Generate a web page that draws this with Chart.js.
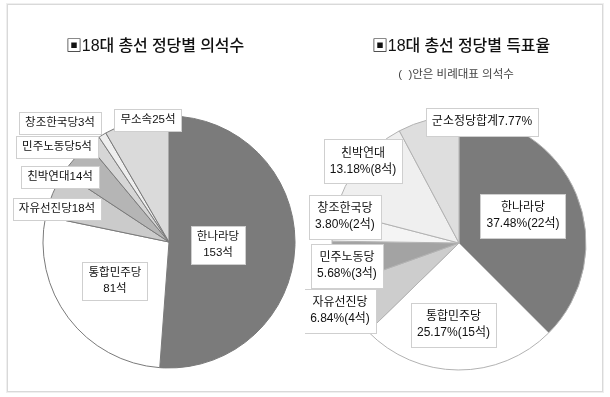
<!DOCTYPE html>
<html>
<head>
<meta charset="utf-8">
<script src="https://cdn.jsdelivr.net/npm/chart.js@4.4.1/dist/chart.umd.min.js"></script>
<style>
  html, body { margin: 0; padding: 0; background: #fff; }
  body { width: 610px; height: 397px; position: relative; overflow: hidden; font-family: "Liberation Sans", "Noto Sans CJK KR", sans-serif; }
  #frame { position: absolute; left: 7px; top: 4px; width: 594px; height: 386px; border: 1px solid #d9d9d9; box-shadow: 0 0 0 1px #efefef; }
  .wrap { position: absolute; top: 0; width: 305px; height: 397px; }
  .title { position: absolute; font-size: 16px; color: #111; white-space: nowrap; transform: translate(-50%, -50%); letter-spacing: -0.1px; font-weight: 500; }
  .sub { position: absolute; font-size: 11.5px; color: #444; white-space: nowrap; transform: translate(-50%, -50%); }
</style>
</head>
<body>
<div id="frame"></div>
<div class="wrap" style="left:0"><canvas id="c1" width="305" height="397"></canvas></div>
<div class="wrap" style="left:305px"><canvas id="c2" width="305" height="397"></canvas></div>
<div class="title" style="left:155px;top:44px">▣18대 총선 정당별 의석수</div>
<div class="title" style="left:461px;top:44px">▣18대 총선 정당별 득표율</div>
<div class="sub" style="left:456px;top:73px">(&nbsp;&nbsp;)안은 비례대표 의석수</div>
<script>
// ---- data ----
const seatParties = ['한나라당','통합민주당','자유선진당','친박연대','민주노동당','창조한국당','무소속'];
const seatCounts  = [153, 81, 18, 14, 5, 3, 25];

const voteParties = ['한나라당','통합민주당','자유선진당','민주노동당','창조한국당','친박연대','군소정당합계'];
const voteShares  = [37.48, 25.17, 6.84, 5.68, 3.80, 13.18, 7.77];
const propSeats   = [22, 15, 4, 3, 2, 8, null];

// ---- labels built from data ----
const seatLabels = seatParties.map((p, i) => (i < 2 ? [p, seatCounts[i] + '석'] : [p + seatCounts[i] + '석']));
const voteLabels = voteParties.map((p, i) => propSeats[i] == null
  ? [p + voteShares[i].toFixed(2) + '%']
  : [p, voteShares[i].toFixed(2) + '%(' + propSeats[i] + '석)']);

// ---- styles (label anchor offsets in units of the pie radius) ----
const seatColors = ['#7b7b7b','#ffffff','#cbcbcb','#b5b5b5','#d6d6d6','#eeeeee','#dadada'];
const voteColors = ['#7b7b7b','#ffffff','#cdcdcd','#a3a3a3','#f4f4f4','#efefef','#dedede'];
const seatAnchors = [[0.389,0.024],[-0.429,0.31],[-0.889,-0.262],[-0.865,-0.516],[-0.889,-0.754],[-0.865,-0.944],[-0.167,-0.968]];
const voteAnchors = [[0.504,-0.213],[-0.043,0.642],[-0.937,0.535],[-0.882,0.181],[-0.898,-0.205],[-0.756,-0.642],[0.181,-0.953]];
const labelFamily = '"Liberation Sans", "Noto Sans CJK KR", sans-serif';

function boxLabelPlugin(labels, anchors, fontSize, padX, padY, lineH) {
  return {
    id: 'boxLabels',
    afterDatasetsDraw(chart) {
      const ctx = chart.ctx;
      const arcs = chart.getDatasetMeta(0).data;
      ctx.save();
      ctx.font = fontSize + 'px ' + labelFamily;
      ctx.textAlign = 'center';
      ctx.textBaseline = 'middle';
      arcs.forEach((arc, i) => {
        const R = arc.outerRadius;
        const cx = arc.x + anchors[i][0] * R;
        const cy = arc.y + anchors[i][1] * R;
        const lines = labels[i];
        const w = Math.max(...lines.map(l => ctx.measureText(l).width)) + padX * 2;
        const h = lines.length * lineH + padY * 2;
        const bx = Math.round(cx - w / 2) + 0.5, by = Math.round(cy - h / 2) + 0.5;
        ctx.fillStyle = '#ffffff';
        ctx.fillRect(bx, by, Math.round(w), Math.round(h));
        ctx.strokeStyle = '#cfcfcf';
        ctx.lineWidth = 1;
        ctx.strokeRect(bx, by, Math.round(w), Math.round(h));
        ctx.fillStyle = '#111111';
        lines.forEach((l, k) => {
          ctx.fillText(l, cx, cy + (k - (lines.length - 1) / 2) * lineH);
        });
      });
      ctx.restore();
    }
  };
}

function makePie(id, labels, values, colors, border, padding, plugin) {
  return new Chart(document.getElementById(id), {
    type: 'pie',
    data: {
      labels: labels.map(l => l.join(' ')),
      datasets: [{ data: values, backgroundColor: colors, borderColor: border, borderWidth: 1 }]
    },
    options: {
      responsive: false,
      devicePixelRatio: 1,
      animation: false,
      layout: { padding: padding },
      plugins: { legend: { display: false }, tooltip: { enabled: false }, title: { display: false } }
    },
    plugins: [plugin]
  });
}

makePie('c1', seatLabels, seatCounts, seatColors, '#7a7a7a',
  { left: 42.5, top: 115.5, right: 9.5, bottom: 28.5 },
  boxLabelPlugin(seatLabels, seatAnchors, 11.5, 6, 3, 16));

makePie('c2', voteLabels, voteShares, voteColors, '#b2b2b2',
  { left: 26.5, top: 115.5, right: 23.5, bottom: 26.5 },
  boxLabelPlugin(voteLabels, voteAnchors, 12, 6, 6, 16));
</script>
</body>
</html>
